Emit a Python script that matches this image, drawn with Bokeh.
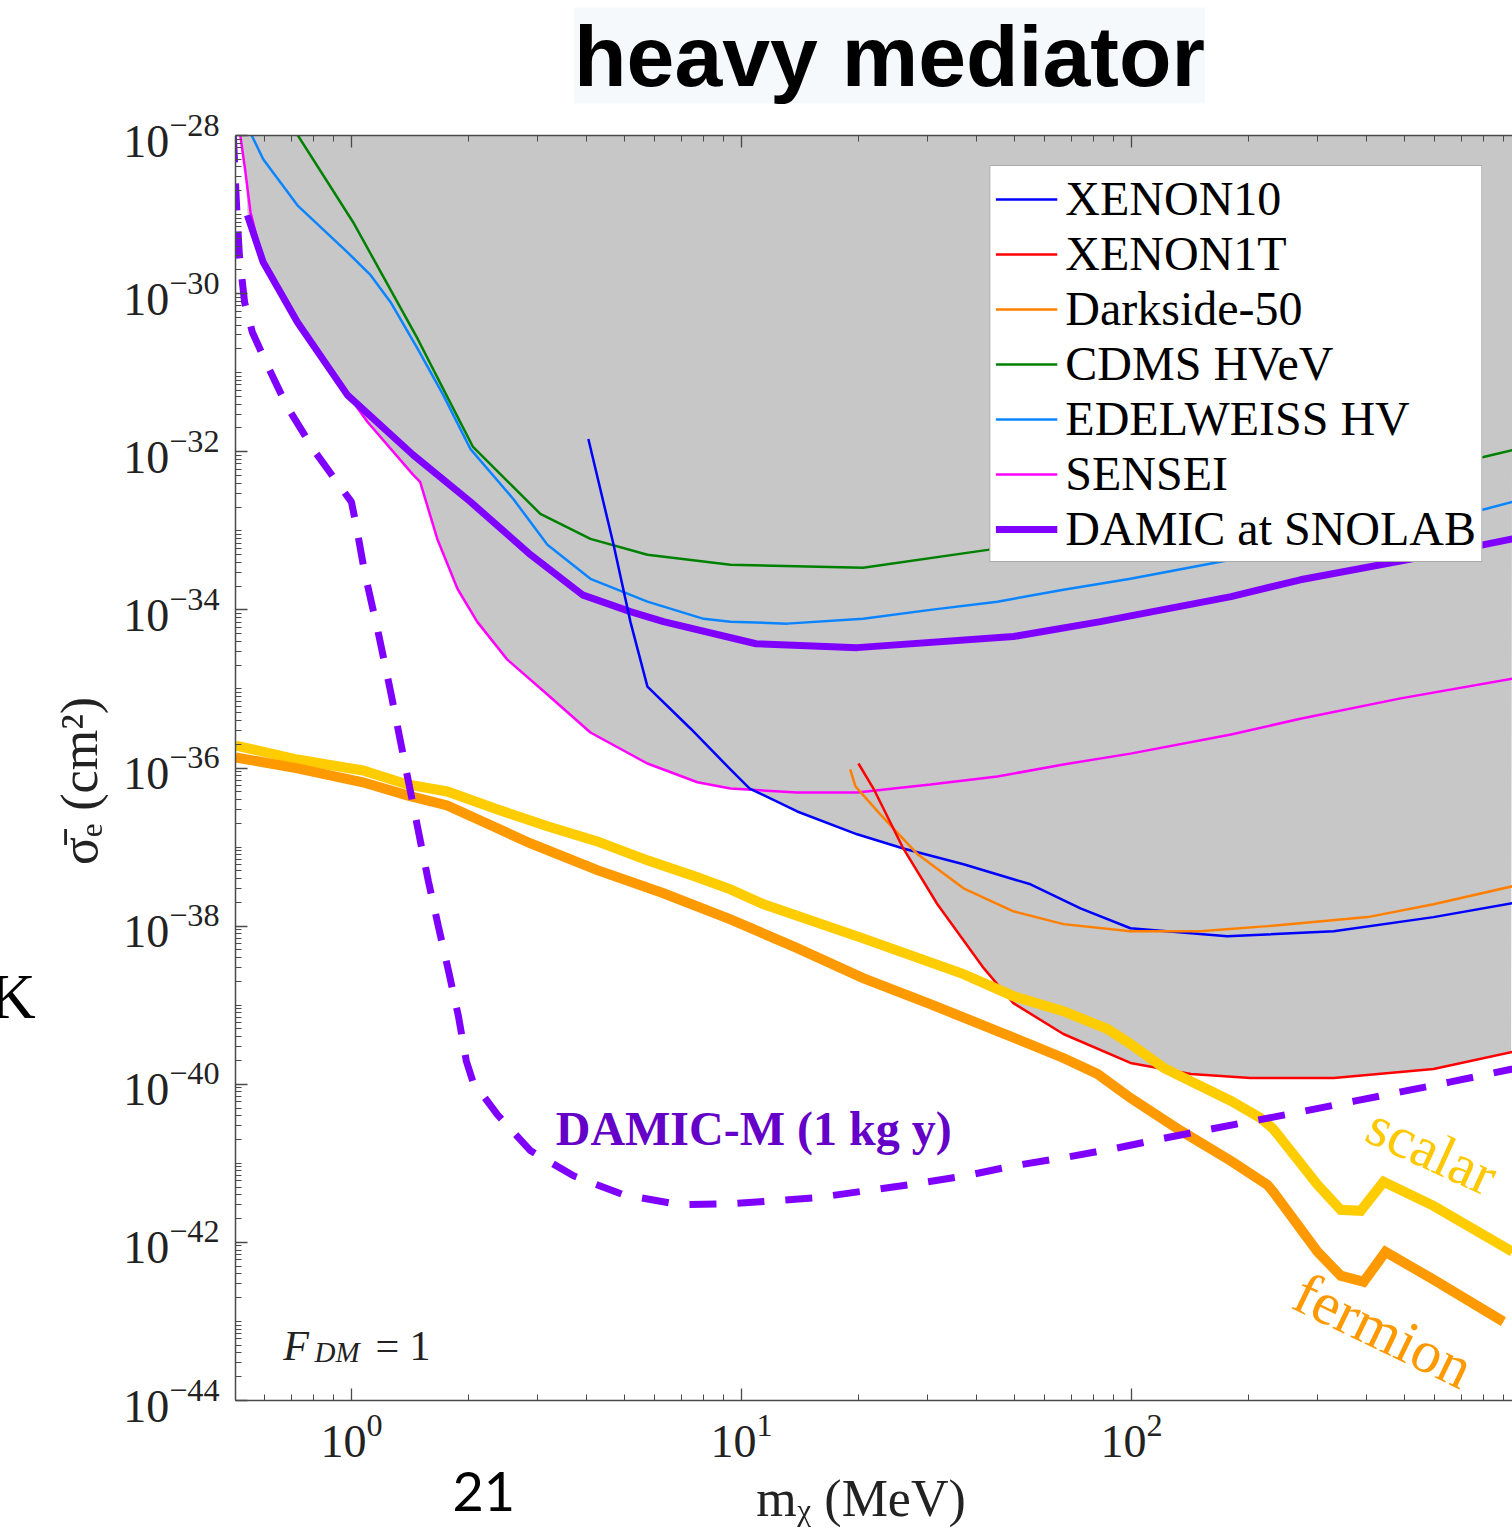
import numpy as np
from bokeh.plotting import figure
from bokeh.models import FixedTicker, LogAxis, Label, Legend, LegendItem, Range1d
from bokeh.embed import file_html
from bokeh.resources import INLINE

# ---------------------------------------------------------------
# Limits on DM-electron scattering, heavy mediator (F_DM = 1)
# mass in MeV, reference cross-section sigma_e in cm^2
# ---------------------------------------------------------------
xenon10_mass = [4.05, 4.70, 5.19, 5.74, 7.40, 9.37, 10.5, 13.9, 19.8, 26.0, 37.1, 55.1,
                74.0, 99.4, 176, 330, 595, 948]
xenon10_xsec = [1.45e-32, 6.65e-34, 7.1e-35, 1.07e-35, 3.16e-36, 9.6e-37, 5.5e-37, 2.82e-37,
                1.45e-37, 9.6e-38, 6.05e-38, 3.38e-38, 1.68e-38, 9.4e-39, 7.45e-39, 8.6e-39,
                1.3e-38, 1.95e-38]

xenon1t_mass = [19.95, 21.8, 26.0, 31.8, 41.8, 49.8, 66.9, 99.4, 142, 202, 330, 595, 948]
xenon1t_xsec = [1.14e-36, 5.5e-37, 9.6e-38, 1.89e-38, 2.94e-39, 1.06e-39, 4.32e-40, 1.86e-40,
                1.35e-40, 1.2e-40, 1.2e-40, 1.56e-40, 2.56e-40]

darkside_mass = [19.0, 19.6, 22.7, 28.3, 37.1, 49.8, 66.9, 99.4, 150, 223, 403, 595, 948]
darkside_xsec = [9.6e-37, 5.85e-37, 2.59e-37, 8.1e-38, 3.01e-38, 1.54e-38, 1.06e-38, 8.6e-39,
                 8.6e-39, 1.0e-38, 1.3e-38, 1.89e-38, 3.19e-38]

cdms_mass = [0.72, 1.01, 1.19, 1.48, 1.72, 2.05, 3.05, 4.10, 5.74, 9.37, 20.5, 42.8, 83.3,
             202, 490, 799, 948]
cdms_xsec = [1.1e-28, 8.0e-30, 1.86e-30, 2.65e-31, 6.2e-32, 1.15e-32, 1.64e-33, 7.9e-34,
             4.97e-34, 3.72e-34, 3.4e-34, 5.74e-34, 1.06e-33, 2.3e-33, 5.46e-33, 8.6e-33,
             1.05e-32]

edelweiss_mass = [0.55, 0.594, 0.727, 0.977, 1.12, 1.26, 1.48, 1.72, 2.02, 2.60, 3.18, 4.10,
                  5.74, 8.0, 9.37, 13.1, 20.5, 30.5, 45.3, 66.9, 99.4, 180, 403, 809, 948]
edelweiss_xsec = [1.1e-28, 5.0e-29, 1.31e-29, 3.33e-30, 1.71e-30, 7.8e-31, 1.99e-31, 5.2e-32,
                  1.08e-32, 2.53e-33, 6.65e-34, 2.47e-34, 1.27e-34, 7.7e-35, 7.1e-35, 6.7e-35,
                  7.7e-35, 1.0e-34, 1.27e-34, 1.8e-34, 2.47e-34, 4.3e-34, 9.4e-34, 1.89e-33,
                  2.32e-33]

sensei_mass = [0.515, 0.535, 0.551, 0.594, 0.727, 1.01, 1.10, 1.44, 1.50, 1.66, 1.87, 2.10,
               2.51, 3.18, 4.10, 5.74, 7.71, 9.37, 13.9, 19.8, 30.5, 45.3, 66.9, 99.4, 180,
               271, 490, 948]
sensei_xsec = [1.3e-28, 3.4e-29, 1.07e-29, 2.49e-30, 4.35e-31, 4.25e-32, 2.38e-32, 5.1e-33,
               4.15e-33, 7.9e-34, 1.85e-34, 7.1e-35, 2.35e-35, 8.5e-36, 2.81e-36, 1.14e-36,
               6.6e-37, 5.5e-37, 4.9e-37, 4.9e-37, 6.2e-37, 7.8e-37, 1.11e-36, 1.52e-36,
               2.65e-36, 4.2e-36, 7.6e-36, 1.35e-35]

snolab_mass = [0.541, 0.594, 0.727, 0.977, 1.44, 2.02, 2.88, 3.91, 5.19, 6.31, 10.9, 19.8,
               49.8, 83.3, 180, 271, 595, 948]
snolab_xsec = [9.8e-30, 2.49e-30, 4.35e-31, 5.2e-32, 9.1e-33, 2.32e-33, 4.97e-34, 1.55e-34,
               9.5e-35, 7.1e-35, 3.73e-35, 3.33e-35, 4.6e-35, 7.1e-35, 1.47e-34, 2.4e-34,
               4.97e-34, 7.9e-34]

# DAMIC-M projection (1 kg y)
damicm_mass = [0.498, 0.507, 0.516, 0.532, 0.557, 0.612, 0.685, 0.804, 0.937, 1.0, 1.03, 1.08,
               1.17, 1.26, 1.336, 1.40, 1.485, 1.575, 1.67, 1.774, 1.88, 1.97, 2.05, 2.37,
               2.88, 3.71, 4.98, 6.98, 9.37, 15.5, 20.8, 27.9, 37.5, 49.8, 66.5, 89.4, 119,
               160, 212, 279, 375, 490, 658, 948]
damicm_xsec = [1.0e-28, 1.43e-29, 3.05e-30, 7.8e-31, 3.25e-31, 1.17e-31, 3.67e-32, 1.02e-32,
               3.59e-33, 2.32e-33, 1.12e-33, 3.03e-34, 5.3e-35, 9.25e-36, 2.16e-36, 6.76e-37,
               1.58e-37, 3.69e-38, 1.0e-38, 2.7e-39, 7.3e-40, 1.97e-40, 1.07e-40, 4.1e-41,
               1.44e-41, 6.95e-42, 4.0e-42, 2.99e-42, 3.08e-42, 3.66e-42, 4.49e-42, 5.5e-42,
               6.95e-42, 9.3e-42, 1.17e-41, 1.52e-41, 2.04e-41, 2.72e-41, 3.54e-41, 4.6e-41,
               6.15e-41, 8.0e-41, 1.07e-40, 1.56e-40]

# relic targets
scalar_mass = [0.505, 0.727, 1.07, 1.39, 1.76, 2.37, 3.18, 4.27, 5.74, 7.71, 9.37, 11.4, 20.5,
               37.1, 49.8, 66.9, 86.8, 99.4, 121, 180, 214, 231, 300, 344, 387, 443, 595, 948]
scalar_xsec = [1.92e-36, 1.28e-36, 9.3e-37, 6.2e-37, 5.05e-37, 2.99e-37, 1.83e-37, 1.18e-37,
               6.8e-38, 4.15e-38, 2.92e-38, 1.89e-38, 7.0e-39, 2.47e-39, 1.3e-39, 8.4e-40,
               4.99e-40, 3.23e-40, 1.61e-40, 6.15e-41, 3.75e-41, 2.72e-41, 5.35e-42, 2.58e-42,
               2.51e-42, 5.83e-42, 2.9e-42, 7.6e-43]

fermion_mass = [0.505, 0.727, 1.07, 1.39, 1.76, 2.14, 2.88, 4.27, 6.31, 9.37, 13.9, 20.5, 30.5,
                45.3, 66.9, 81.8, 99.4, 134, 180, 223, 231, 300, 344, 394, 448, 595, 899]
fermion_xsec = [1.36e-36, 9.9e-37, 6.6e-37, 4.5e-37, 3.36e-37, 2.17e-37, 1.11e-37, 5.1e-38,
                2.6e-38, 1.22e-38, 5.26e-39, 2.2e-39, 1.03e-39, 4.71e-40, 2.15e-40, 1.35e-40,
                6.7e-41, 2.57e-41, 1.07e-41, 5.35e-42, 4.36e-42, 7.6e-43, 3.79e-43, 3.18e-43,
                7.6e-43, 3.38e-43, 9.95e-44]

x_lo, x_hi = 0.5043, 948.4
y_lo, y_hi = 1e-44, 1e-28

x_major = [1.0, 10.0, 100.0, 1000.0]
x_minor = [m * 10.0 ** k for k in (-1, 0, 1, 2) for m in range(2, 10)]
y_major = [float(f"1e{k}") for k in range(-44, -27, 2)]
y_minor = [m * 10.0 ** k for k in range(-44, -28) for m in range(1, 10)]

SERIF = "Liberation Serif"
AXIS_GREY = "#4a4a4a"

p = figure(width=1512, height=1539, x_axis_type="log", y_axis_type="log",
           x_range=Range1d(x_lo, x_hi), y_range=Range1d(y_lo, y_hi),
           output_backend="svg", toolbar_location=None,
           min_border_left=235, min_border_right=0, min_border_top=133, min_border_bottom=139,
           background_fill_color="white", border_fill_color="white", outline_line_color=None)
p.grid.visible = False

xticker = FixedTicker(ticks=x_major, minor_ticks=x_minor)
yticker = FixedTicker(ticks=y_major, minor_ticks=y_minor)
p.xaxis.ticker = xticker
p.yaxis.ticker = yticker


def style_axis(ax):
    ax.major_tick_in = 12
    ax.major_tick_out = 0
    ax.minor_tick_in = 6
    ax.minor_tick_out = 0
    ax.axis_line_color = AXIS_GREY
    ax.axis_line_width = 1.5
    ax.major_tick_line_color = AXIS_GREY
    ax.minor_tick_line_color = AXIS_GREY
    ax.major_tick_line_width = 1.3
    ax.minor_tick_line_width = 1.0
    ax.major_label_text_font = SERIF
    ax.major_label_text_font_size = "46px"
    ax.major_label_text_color = "#222222"
    ax.axis_label_text_font = SERIF
    ax.axis_label_text_font_size = "52px"
    ax.axis_label_text_font_style = "normal"
    ax.axis_label_text_color = "#222222"


style_axis(p.xaxis[0])
style_axis(p.yaxis[0])
p.xaxis.major_label_standoff = 14
p.yaxis.major_label_standoff = 16
p.xaxis.axis_label = "mᵪ   (MeV)"
p.yaxis.axis_label = "σ̄ₑ   (cm²)"
p.xaxis.axis_label_standoff = 10
p.yaxis.axis_label_standoff = 12

# mirrored tick marks along the top edge (labels kept out of sight)
top_axis = LogAxis(ticker=xticker)
style_axis(top_axis)
top_axis.major_label_text_font_size = "1px"
top_axis.major_label_text_color = None
top_axis.major_label_standoff = 0
top_axis.axis_label_standoff = 0
p.add_layout(top_axis, "above")

# ---- excluded region: everything above the strongest limit
grid_m = np.geomspace(sensei_mass[0], x_hi, 900)
lg = np.log10(grid_m)
bounds = []
for m, s in [(sensei_mass, sensei_xsec), (xenon10_mass, xenon10_xsec),
             (xenon1t_mass, xenon1t_xsec), (darkside_mass, darkside_xsec),
             (snolab_mass, snolab_xsec)]:
    bounds.append(np.interp(lg, np.log10(m), np.log10(s), left=np.inf, right=np.inf))
envelope = np.minimum(np.min(bounds, axis=0), np.log10(y_hi))
p.varea(x=grid_m, y1=10 ** envelope, y2=np.full_like(grid_m, y_hi),
        fill_color="#c7c7c7", fill_alpha=1.0)

# ---- experimental limits
r_cdms = p.line(cdms_mass, cdms_xsec, line_color="#008000", line_width=2.5)
r_edel = p.line(edelweiss_mass, edelweiss_xsec, line_color="#0a84ff", line_width=2.5)
r_sensei = p.line(sensei_mass, sensei_xsec, line_color="#ff00ff", line_width=2.5)
r_snolab = p.line(snolab_mass, snolab_xsec, line_color="#7f00ff", line_width=7)
r_x10 = p.line(xenon10_mass, xenon10_xsec, line_color="#0000ff", line_width=2.5)
r_ds = p.line(darkside_mass, darkside_xsec, line_color="#ff7f00", line_width=2.5)
r_x1t = p.line(xenon1t_mass, xenon1t_xsec, line_color="#ff0000", line_width=2.5)

# ---- theory targets
p.line(scalar_mass, scalar_xsec, line_color="#ffcc00", line_width=10, line_join="miter")
p.line(fermion_mass, fermion_xsec, line_color="#ff9900", line_width=10, line_join="miter")

# ---- projection
p.line(damicm_mass, damicm_xsec, line_color="#7f00ff", line_width=7, line_dash="27 21")

legend = Legend(items=[
    LegendItem(label="XENON10", renderers=[r_x10]),
    LegendItem(label="XENON1T", renderers=[r_x1t]),
    LegendItem(label="Darkside-50", renderers=[r_ds]),
    LegendItem(label="CDMS HVeV", renderers=[r_cdms]),
    LegendItem(label="EDELWEISS HV", renderers=[r_edel]),
    LegendItem(label="SENSEI", renderers=[r_sensei]),
    LegendItem(label="DAMIC at SNOLAB", renderers=[r_snolab]),
], location="top_right", margin=30, padding=5, spacing=0,
    glyph_width=62, glyph_height=40, label_standoff=8, label_height=50,
    label_text_font=SERIF, label_text_font_size="48px", label_text_color="#000000",
    border_line_color="#555555", border_line_width=1.5,
    background_fill_color="white", background_fill_alpha=1.0)
p.add_layout(legend)

# ---- annotations inside the frame
p.add_layout(Label(x=3.34, y=2.72e-41, text="DAMIC-M (1 kg y)", text_font=SERIF,
                   text_font_style="bold", text_font_size="48px", text_color="#6400c8",
                   text_baseline="alphabetic"))
p.add_layout(Label(x=590, y=1.45e-41, text="scalar", text_font=SERIF, text_font_size="58px",
                   text_color="#ffc800", angle=-0.43, text_align="center",
                   text_baseline="middle"))
p.add_layout(Label(x=443, y=7.66e-44, text="fermion", text_font=SERIF, text_font_size="60px",
                   text_color="#ff9900", angle=-0.45, text_align="center",
                   text_baseline="middle"))
p.add_layout(Label(x=0.669, y=4.95e-44, text="F", text_font=SERIF, text_font_style="italic",
                   text_font_size="42px", text_color="#222222", text_baseline="alphabetic"))
p.add_layout(Label(x=0.804, y=4.05e-44, text="DM", text_font=SERIF, text_font_style="italic",
                   text_font_size="29px", text_color="#222222", text_baseline="alphabetic"))
p.add_layout(Label(x=1.152, y=4.95e-44, text="= 1", text_font=SERIF,
                   text_font_size="42px", text_color="#222222", text_baseline="alphabetic"))

# ---- slide furniture around the plot (canvas pixel units, centred vertically on y)
p.add_layout(Label(x=889, y=55, x_units="canvas", y_units="canvas",
                   text="heavy mediator", text_font="Liberation Sans",
                   text_font_style="bold", text_font_size="86px", text_color="#000000",
                   text_align="center", text_baseline="middle",
                   background_fill_color="#f5f9fc"), "above")
p.add_layout(Label(x=452, y=1491, x_units="canvas", y_units="canvas",
                   text="21", text_font="Lato", text_font_size="54px",
                   text_color="#000000", text_baseline="middle"), "above")
p.add_layout(Label(x=-11, y=996, x_units="canvas", y_units="canvas",
                   text="K", text_font=SERIF, text_font_size="64px",
                   text_color="#000000", text_baseline="middle"), "left")

open("out.html", "w").write(file_html(p, INLINE))
